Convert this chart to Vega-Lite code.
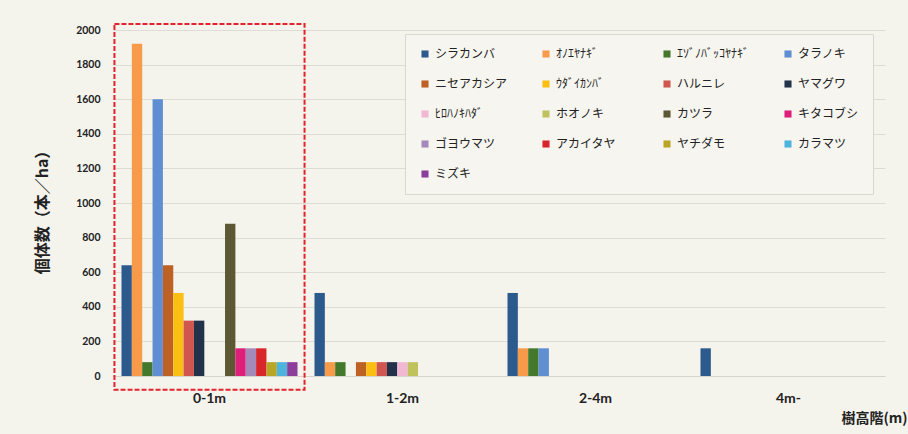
{
  "$schema": "https://vega.github.io/schema/vega-lite/v6.json",
  "autosize": {"type": "none"},
  "width": 772,
  "height": 346,
  "padding": {"left": 113, "top": 30, "right": 23, "bottom": 58},
  "background": "#f4f3ec",
  "config": {"view": {"stroke": null}, "font": "Noto Sans CJK JP"},
  "datasets": {
    "counts": [
      {"class": "0-1m", "species": "シラカンバ", "count": 640},
      {"class": "0-1m", "species": "ｵﾉｴﾔﾅｷﾞ", "count": 1920},
      {"class": "0-1m", "species": "ｴｿﾞﾉﾊﾞｯｺﾔﾅｷﾞ", "count": 80},
      {"class": "0-1m", "species": "タラノキ", "count": 1600},
      {"class": "0-1m", "species": "ニセアカシア", "count": 640},
      {"class": "0-1m", "species": "ｳﾀﾞｲｶﾝﾊﾞ", "count": 480},
      {"class": "0-1m", "species": "ハルニレ", "count": 320},
      {"class": "0-1m", "species": "ヤマグワ", "count": 320},
      {"class": "0-1m", "species": "カツラ", "count": 880},
      {"class": "0-1m", "species": "キタコブシ", "count": 160},
      {"class": "0-1m", "species": "ゴヨウマツ", "count": 160},
      {"class": "0-1m", "species": "アカイタヤ", "count": 160},
      {"class": "0-1m", "species": "ヤチダモ", "count": 80},
      {"class": "0-1m", "species": "カラマツ", "count": 80},
      {"class": "0-1m", "species": "ミズキ", "count": 80},
      {"class": "1-2m", "species": "シラカンバ", "count": 480},
      {"class": "1-2m", "species": "ｵﾉｴﾔﾅｷﾞ", "count": 80},
      {"class": "1-2m", "species": "ｴｿﾞﾉﾊﾞｯｺﾔﾅｷﾞ", "count": 80},
      {"class": "1-2m", "species": "ニセアカシア", "count": 80},
      {"class": "1-2m", "species": "ｳﾀﾞｲｶﾝﾊﾞ", "count": 80},
      {"class": "1-2m", "species": "ハルニレ", "count": 80},
      {"class": "1-2m", "species": "ヤマグワ", "count": 80},
      {"class": "1-2m", "species": "ﾋﾛﾊﾉｷﾊﾀﾞ", "count": 80},
      {"class": "1-2m", "species": "ホオノキ", "count": 80},
      {"class": "2-4m", "species": "シラカンバ", "count": 480},
      {"class": "2-4m", "species": "ｵﾉｴﾔﾅｷﾞ", "count": 160},
      {"class": "2-4m", "species": "ｴｿﾞﾉﾊﾞｯｺﾔﾅｷﾞ", "count": 160},
      {"class": "2-4m", "species": "タラノキ", "count": 160},
      {"class": "4m-", "species": "シラカンバ", "count": 160}
    ],
    "highlight": [
      {"class": "0-1m", "top": 2035, "bottom": -80}
    ]
  },
  "layer": [
    {
      "data": {"name": "counts"},
      "mark": {"type": "bar"},
      "encoding": {
        "x": {
          "field": "class",
          "type": "nominal",
          "title": "樹高階(m)",
          "scale": {
            "domain": ["0-1m", "1-2m", "2-4m", "4m-"],
            "paddingInner": 0.088,
            "paddingOuter": 0.044
          },
          "axis": {
            "labelAngle": 0,
            "domain": true,
            "domainColor": "#d6d5cd",
            "ticks": false,
            "labelPadding": 15,
            "labelBaseline": "top",
            "labelFont": "Lato",
            "labelFontSize": 14,
            "labelFontWeight": "bold",
            "labelColor": "#222222",
            "titleFont": "Noto Sans CJK JP",
            "titleFontSize": 14,
            "titleFontWeight": "bold",
            "titleColor": "#222222",
            "titleAnchor": null,
            "titleAlign": "right",
            "titleBaseline": "middle",
            "titleX": 794,
            "titleY": 42
          }
        },
        "xOffset": {
          "field": "species",
          "type": "nominal",
          "scale": {
            "domain": ["シラカンバ", "ｵﾉｴﾔﾅｷﾞ", "ｴｿﾞﾉﾊﾞｯｺﾔﾅｷﾞ", "タラノキ", "ニセアカシア", "ｳﾀﾞｲｶﾝﾊﾞ", "ハルニレ", "ヤマグワ", "ﾋﾛﾊﾉｷﾊﾀﾞ", "ホオノキ", "カツラ", "キタコブシ", "ゴヨウマツ", "アカイタヤ", "ヤチダモ", "カラマツ", "ミズキ"],
            "paddingInner": 0,
            "paddingOuter": 0
          }
        },
        "y": {
          "field": "count",
          "type": "quantitative",
          "title": "個体数（本／ha）",
          "scale": {"domain": [0, 2000], "nice": false},
          "axis": {
            "values": [0, 200, 400, 600, 800, 1000, 1200, 1400, 1600, 1800, 2000],
            "format": "d",
            "labelOverlap": false,
            "grid": true,
            "gridColor": "#dddcd4",
            "domain": false,
            "ticks": false,
            "labelPadding": 13,
            "labelFont": "Lato",
            "labelFontSize": 10.5,
            "labelFontWeight": "bold",
            "labelColor": "#222222",
            "titleFont": "Noto Sans CJK JP",
            "titleFontSize": 16,
            "titleFontWeight": "bold",
            "titleColor": "#222222",
            "titleAngle": -90,
            "titleAlign": "center",
            "titleBaseline": "middle",
            "titleX": -71,
            "titleY": 178
          }
        },
        "color": {
          "field": "species",
          "type": "nominal",
          "scale": {
            "domain": ["シラカンバ", "ｵﾉｴﾔﾅｷﾞ", "ｴｿﾞﾉﾊﾞｯｺﾔﾅｷﾞ", "タラノキ", "ニセアカシア", "ｳﾀﾞｲｶﾝﾊﾞ", "ハルニレ", "ヤマグワ", "ﾋﾛﾊﾉｷﾊﾀﾞ", "ホオノキ", "カツラ", "キタコブシ", "ゴヨウマツ", "アカイタヤ", "ヤチダモ", "カラマツ", "ミズキ"],
            "range": ["#2c5a8c", "#f79a4a", "#44782c", "#5f8fd2", "#bd6125", "#fbbf14", "#d05650", "#22324a", "#f2b7d2", "#c0c25e", "#5c5833", "#de1e78", "#a48ab8", "#d8262a", "#b9a626", "#4db4de", "#8c3f9a"]
          },
          "legend": {
            "title": null,
            "orient": "none",
            "legendX": 292,
            "legendY": 4,
            "columns": 4,
            "direction": "horizontal",
            "gridAlign": "all",
            "symbolType": "square",
            "symbolSize": 50,
            "symbolOffset": 0,
            "labelOffset": 4,
            "labelFont": "Noto Sans CJK JP",
            "labelFontSize": 12,
            "labelColor": "#222222",
            "labelLimit": 200,
            "rowPadding": 18,
            "columnPadding": 32,
            "padding": 14,
            "strokeColor": "#d8d7cf",
            "fillColor": "#f6f5ef"
          }
        }
      }
    },
    {
      "data": {"name": "highlight"},
      "mark": {
        "type": "bar",
        "fill": "transparent",
        "stroke": "#e3222b",
        "strokeWidth": 2,
        "strokeDash": [5, 2],
        "width": {"band": 1.08}
      },
      "encoding": {
        "x": {"field": "class", "type": "nominal", "title": "樹高階(m)"},
        "y": {
          "field": "top",
          "type": "quantitative",
          "title": "個体数（本／ha）",
          "scale": {"domain": [0, 2000], "nice": false},
          "axis": {
            "values": [0, 200, 400, 600, 800, 1000, 1200, 1400, 1600, 1800, 2000],
            "format": "d",
            "labelOverlap": false,
            "grid": true,
            "gridColor": "#dddcd4",
            "domain": false,
            "ticks": false,
            "labelPadding": 13,
            "labelFont": "Lato",
            "labelFontSize": 10.5,
            "labelFontWeight": "bold",
            "labelColor": "#222222",
            "titleFont": "Noto Sans CJK JP",
            "titleFontSize": 16,
            "titleFontWeight": "bold",
            "titleColor": "#222222",
            "titleAngle": -90,
            "titleAlign": "center",
            "titleBaseline": "middle",
            "titleX": -71,
            "titleY": 178
          }
        },
        "y2": {"field": "bottom"}
      }
    }
  ]
}
